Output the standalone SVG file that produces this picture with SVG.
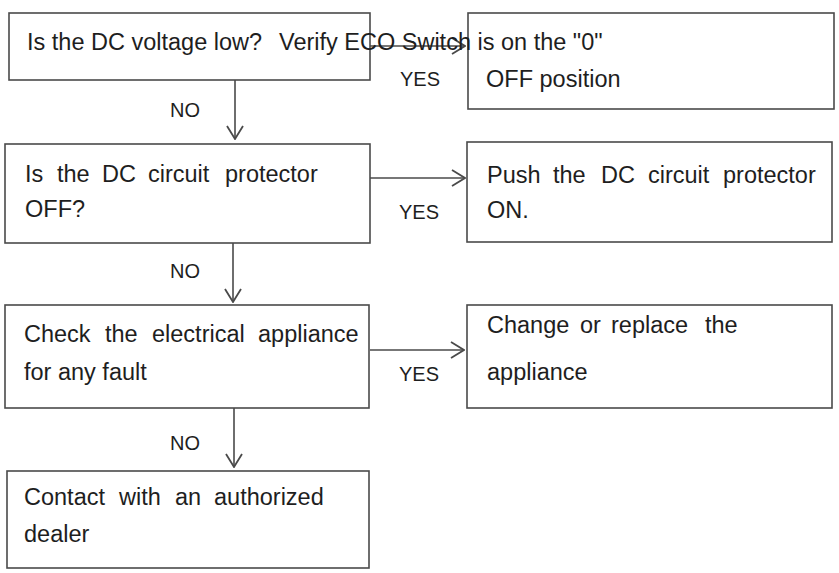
<svg xmlns="http://www.w3.org/2000/svg" width="839" height="573" viewBox="0 0 839 573">
<style>
.box{fill:#fff;stroke:#4a4a4a;stroke-width:1.6}
.t{font-family:"Liberation Sans",Arial,sans-serif;font-size:23.5px;fill:#1e1e1e}
.l{font-family:"Liberation Sans",Arial,sans-serif;font-size:20px;fill:#1e1e1e;text-anchor:middle}
.c{fill:none;stroke:#4a4a4a;stroke-width:1.6}
</style>
<defs>
<marker id="ah" viewBox="0 0 15 18" refX="14" refY="9" markerWidth="15" markerHeight="18" markerUnits="userSpaceOnUse" orient="auto">
<polyline points="1,1 14,9 1,17" fill="none" stroke="#4a4a4a" stroke-width="1.8"/>
</marker>
</defs>
<rect width="839" height="573" fill="#fff"/>
<g id="n1"><rect class="box" x="9" y="13" width="361" height="67"/></g>
<g id="r1"><rect class="box" x="468" y="13" width="366" height="96"/></g>
<g id="n2"><rect class="box" x="5" y="144" width="365" height="99"/>
<text class="t" y="182"><tspan x="25">Is</tspan><tspan x="57">the</tspan><tspan x="102">DC</tspan><tspan x="148">circuit</tspan><tspan x="225">protector</tspan></text>
<text class="t" x="25" y="217">OFF?</text></g>
<g id="r2"><rect class="box" x="467" y="142" width="365" height="100"/>
<text class="t" y="183"><tspan x="487">Push</tspan><tspan x="553">the</tspan><tspan x="601">DC</tspan><tspan x="648">circuit</tspan><tspan x="723">protector</tspan></text>
<text class="t" x="487" y="218">ON.</text></g>
<g id="n3"><rect class="box" x="5" y="305" width="364" height="103"/>
<text class="t" y="342"><tspan x="24">Check</tspan><tspan x="105">the</tspan><tspan x="152">electrical</tspan><tspan x="258">appliance</tspan></text>
<text class="t" x="24" y="380">for any fault</text></g>
<g id="r3"><rect class="box" x="467" y="305" width="365" height="103"/>
<text class="t" y="333"><tspan x="487">Change</tspan><tspan x="580">or</tspan><tspan x="611">replace</tspan><tspan x="705">the</tspan></text>
<text class="t" x="487" y="380">appliance</text></g>
<g id="n4"><rect class="box" x="7" y="471" width="362" height="97"/>
<text class="t" y="505"><tspan x="24">Contact</tspan><tspan x="119">with</tspan><tspan x="175">an</tspan><tspan x="214">authorized</tspan></text>
<text class="t" x="24" y="542">dealer</text></g>
<g id="connectors">
<line class="c" x1="370" y1="46" x2="465" y2="46" marker-end="url(#ah)"/>
<line class="c" x1="235" y1="80" x2="235" y2="139" marker-end="url(#ah)"/>
<line class="c" x1="370" y1="178" x2="465" y2="178" marker-end="url(#ah)"/>
<line class="c" x1="233" y1="243" x2="233" y2="302" marker-end="url(#ah)"/>
<line class="c" x1="370" y1="350" x2="464" y2="350" marker-end="url(#ah)"/>
<line class="c" x1="234" y1="408" x2="234" y2="467" marker-end="url(#ah)"/>
<text class="l" x="420" y="86">YES</text>
<text class="l" x="185" y="117">NO</text>
<text class="l" x="419" y="219">YES</text>
<text class="l" x="185" y="278">NO</text>
<text class="l" x="419" y="381">YES</text>
<text class="l" x="185" y="450">NO</text>
</g>
<g id="n1text">
<text class="t" y="50"><tspan x="27">Is the DC voltage low?</tspan><tspan x="279">Verify ECO Switch is on the "0"</tspan></text>
<text class="t" x="486" y="87">OFF position</text>
</g>
</svg>
